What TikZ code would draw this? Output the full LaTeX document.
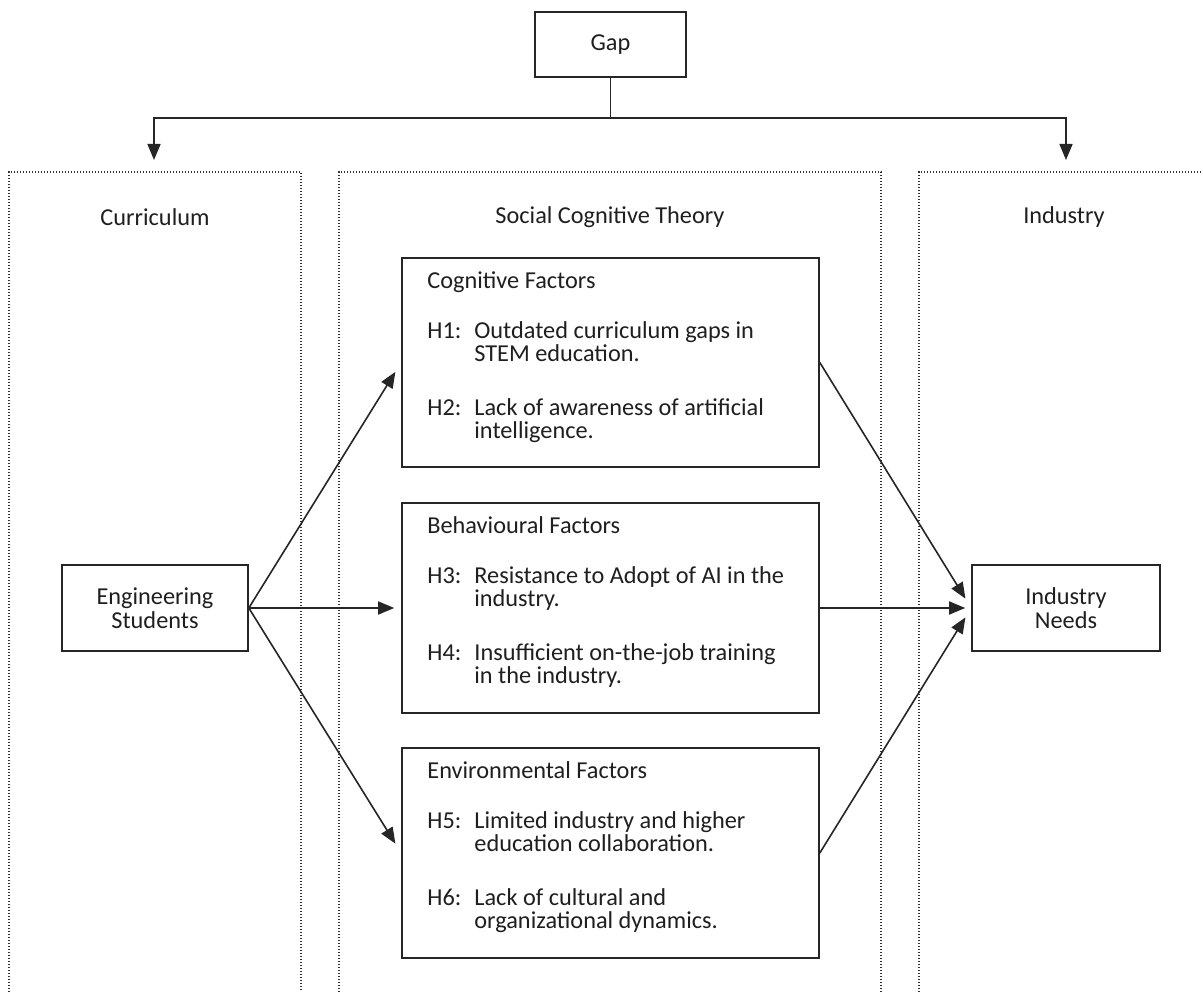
\documentclass[tikz,border=0pt]{standalone}
\usepackage{fontspec}
\setmainfont{Carlito}
\usetikzlibrary{arrows.meta,calc}
\begin{document}
\begin{tikzpicture}[x=1pt,y=-1pt,
  every node/.style={font=\fontsize{24.3}{21}\selectfont, text=black!88},
  box/.style={draw=black!85, line width=1.6pt, inner sep=0pt, align=center,
    font=\fontsize{24.3}{23.5}\selectfont},
  txtblock/.style={anchor=base west, inner sep=0pt},
  paneltitle/.style={inner sep=0pt},
  panel/.style={draw=black!80, line width=1.4pt, dash pattern=on 1.4pt off 1.6pt},
  link/.style={draw=black!85, line width=1.6pt, line join=miter},
  conn/.style={link, -{Triangle[length=16pt,width=13pt]}}]
\fill[white] (0,0) rectangle (1203,992);
\useasboundingbox (0,0) rectangle (1203,992);

% panels
\draw[panel] (9,992) -- (9,172) -- (301,172) -- (301,992);
\draw[panel] (339,992) -- (339,172) -- (881,172) -- (881,992);
\draw[panel] (919,992) -- (919,172) -- (1203,172);
\node[paneltitle] (tcur) at (155,217) {Curriculum};
\node[paneltitle] (tsct) at (610,217) {Social Cognitive Theory};
\node[paneltitle] (tind) at (1064,217) {Industry};

% gap
\node[box, minimum width=151pt, minimum height=65pt] (gap) at (610.5,44.5) {Gap};
\coordinate (junc) at (610.5,118);
\coordinate (cl) at (154,160);
\coordinate (cr) at (1066,160);
\draw[link] (gap.south) -- (junc);
\draw[conn] (junc) -| (cl);
\draw[conn] (junc) -| (cr);

% side boxes
\node[box, minimum width=186pt, minimum height=86pt] (eng) at (155,608) {Engineering\\Students};
\node[box, minimum width=188pt, minimum height=86pt] (ind) at (1066,608) {Industry\\Needs};

% factor boxes
\node[box, minimum width=417pt, minimum height=209pt] (cog) at (610.5,362.5) {};
\node[box, minimum width=417pt, minimum height=210pt] (beh) at (610.5,608) {};
\node[box, minimum width=417pt, minimum height=210pt] (env) at (610.5,853) {};

\node[txtblock] (cogt) at ($(cog.north west)+(26,31)$) {%
\begin{tabular}[t]{@{}p{47pt}@{}l@{}}
\multicolumn{2}{@{}l@{}}{Cognitive Factors}\\[27pt]
H1: & Outdated curriculum gaps in\\
    & STEM education.\\[31pt]
H2: & Lack of awareness of artificial\\
    & intelligence.
\end{tabular}};

\node[txtblock] (beht) at ($(beh.north west)+(26,31)$) {%
\begin{tabular}[t]{@{}p{47pt}@{}l@{}}
\multicolumn{2}{@{}l@{}}{Behavioural Factors}\\[27pt]
H3: & Resistance to Adopt of AI in the\\
    & industry.\\[31pt]
H4: & Insufficient on-the-job training\\
    & in the industry.
\end{tabular}};

\node[txtblock] (envt) at ($(env.north west)+(26,31)$) {%
\begin{tabular}[t]{@{}p{47pt}@{}l@{}}
\multicolumn{2}{@{}l@{}}{Environmental Factors}\\[27pt]
H5: & Limited industry and higher\\
    & education collaboration.\\[31pt]
H6: & Lack of cultural and\\
    & organizational dynamics.
\end{tabular}};

% connectors
\draw[conn, shorten >=11pt] (eng.east) -- (cog.west);
\draw[conn, shorten >=7pt] (eng.east) -- (beh.west);
\draw[conn, shorten >=11pt] (eng.east) -- (env.west);
\draw[conn, shorten >=11pt] (cog.east) -- (ind.west);
\draw[conn, shorten >=6pt] (beh.east) -- (ind.west);
\draw[conn, shorten >=11pt] (env.east) -- (ind.west);
\end{tikzpicture}
\end{document}
